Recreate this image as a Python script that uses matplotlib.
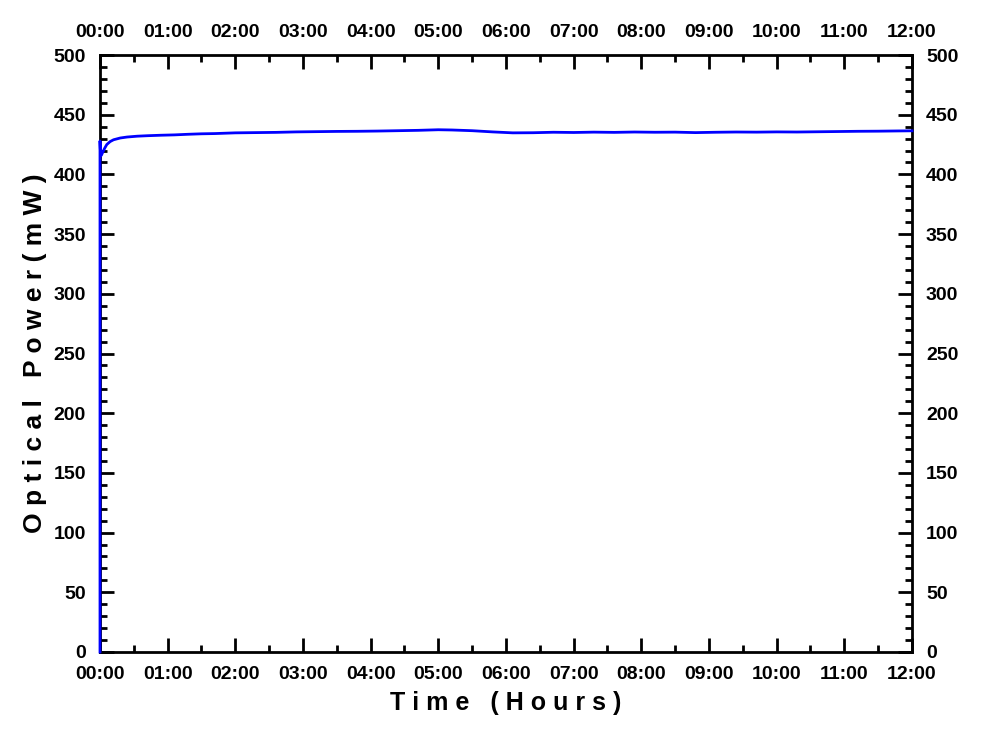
import numpy as np
import matplotlib.pyplot as plt
from matplotlib.ticker import MultipleLocator, FuncFormatter

# time in hours, optical power in mW
time_h = [0.0, 0.0, 0.005, 0.02, 0.04, 0.07, 0.1, 0.15, 0.2, 0.3, 0.4, 0.55, 0.7,
          0.9, 1.1, 1.3, 1.5, 1.7, 2.0, 2.3, 2.6, 2.9, 3.2, 3.5, 3.8, 4.1,
          4.4, 4.7, 5.0, 5.2, 5.5, 5.8, 6.1, 6.4, 6.7, 7.0, 7.3, 7.6, 7.9,
          8.2, 8.5, 8.8, 9.1, 9.4, 9.7, 10.0, 10.3, 10.6, 10.9, 11.2, 11.5,
          11.8, 12.0]
power_mw = [0.0, 428.0, 421.0, 416.0, 418.5, 422.0, 425.0, 427.5, 429.0, 430.5,
            431.3, 432.0, 432.4, 432.8, 433.1, 433.6, 434.0, 434.2, 434.8,
            435.0, 435.2, 435.6, 435.8, 436.0, 436.1, 436.3, 436.6, 436.9,
            437.4, 437.2, 436.6, 435.6, 434.8, 434.9, 435.3, 435.1, 435.4,
            435.2, 435.5, 435.3, 435.4, 435.0, 435.3, 435.5, 435.4, 435.6,
            435.5, 435.7, 435.9, 436.1, 436.2, 436.4, 436.5]

plt.rcParams["font.family"] = ["Liberation Sans", "DejaVu Sans"]
plt.rcParams["font.weight"] = "bold"

fig = plt.figure(figsize=(9.87, 7.39), dpi=100)
ax = fig.add_axes([100 / 987, 1 - 652 / 739, 812 / 987, 597 / 739])

ax.plot(time_h, power_mw, color="#0000ff", lw=2, zorder=3, clip_on=False)

ax.set_xlim(0, 12)
ax.set_ylim(0, 500)

hour_fmt = FuncFormatter(lambda v, p: f"{int(round(v)):02d}:00")
ax.xaxis.set_major_locator(MultipleLocator(1))
ax.xaxis.set_minor_locator(MultipleLocator(0.5))
ax.xaxis.set_major_formatter(hour_fmt)
ax.yaxis.set_major_locator(MultipleLocator(50))
ax.yaxis.set_minor_locator(MultipleLocator(10))

ax.tick_params(which="both", direction="in", top=True, right=True,
               labeltop=True, labelright=True, width=2, labelsize=14)
ax.tick_params(axis="x", which="major", pad=10)
ax.tick_params(axis="y", which="major", pad=10)
ax.tick_params(which="major", length=10)
ax.tick_params(which="minor", length=5)
for lab in ax.get_xticklabels() + ax.get_yticklabels():
    lab.set_fontweight("bold")
for sp in ax.spines.values():
    sp.set_linewidth(2)

ax.set_xlabel("T i m e   ( H o u r s )", fontsize=18, fontweight="bold", labelpad=6)
ax.set_ylabel("O p t i c a l   P o w e r ( m W )", fontsize=19, fontweight="bold", labelpad=5)

fig.savefig("out.png", dpi=100)
